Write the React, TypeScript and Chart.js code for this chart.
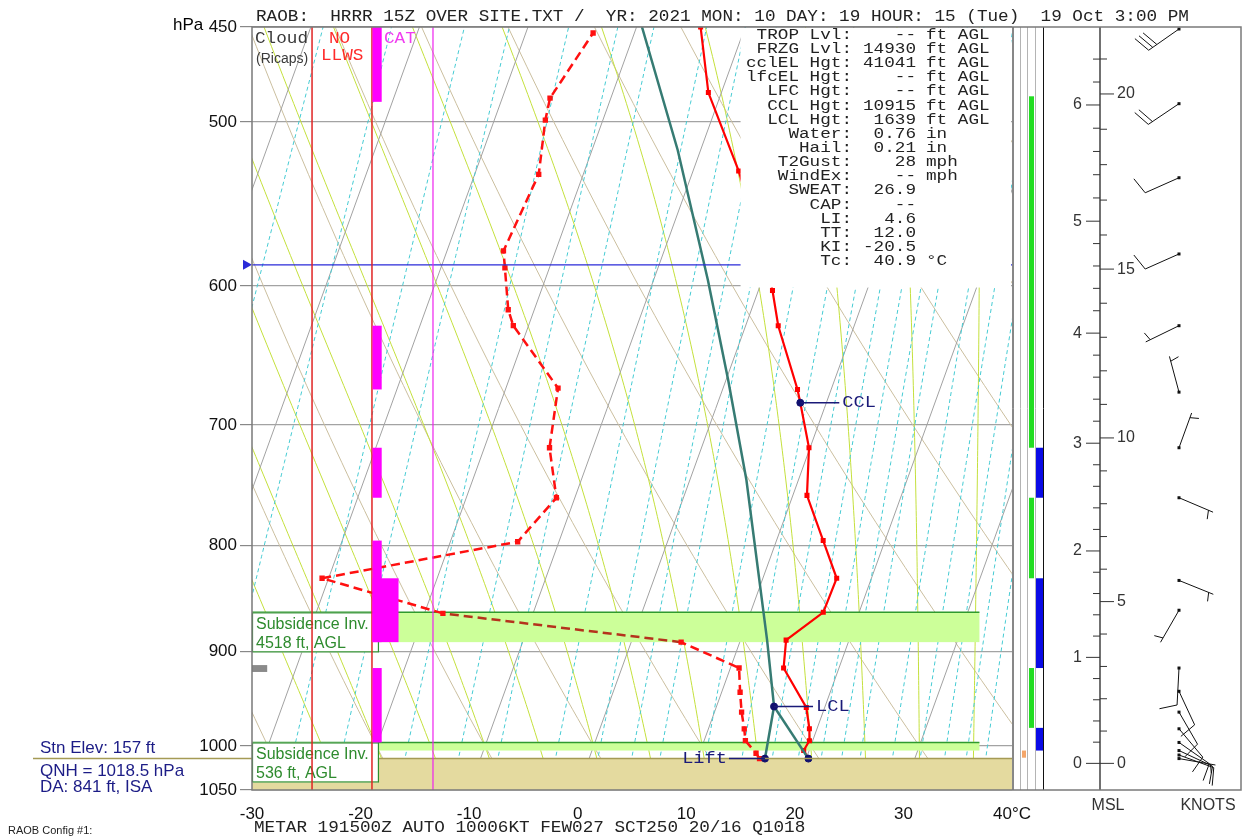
import React, { useEffect, useRef } from 'react';
import { Chart, registerables } from 'chart.js';

Chart.register(...registerables);

// ---------- axes ----------
const SKEW = 30; // skew of isotherms, °C per ln(p) unit
const P_TOP = 450;
const P_BOT = 1050;
const PRESSURE_TICKS = [450, 500, 600, 700, 800, 900, 1000, 1050];

// ---------- sounding ----------
const tempP = [1014, 1005, 994, 981, 958, 917, 889, 862, 830, 796, 757, 718, 683, 673, 627, 603, 586, 528, 484, 450];
const tempT = [20.2, 19.5, 19.7, 19.3, 18.3, 14.9, 14.2, 16.7, 16.8, 14.3, 11.3, 9.9, 7.6, 6.9, 3.0, 1.3, 0.0, -5.8, -11.2, -14.1];

const dewP = [1014, 1008, 994, 981, 963, 942, 917, 891, 863, 830, 797, 759, 718, 672, 627, 616, 588, 577, 530, 499, 487, 453];
const dewT = [15.7, 15.2, 13.8, 13.3, 12.5, 11.7, 10.8, 4.6, -18.3, -30.6, -13.8, -11.7, -14.0, -15.2, -21.4, -22.4, -24.1, -24.8, -24.1, -25.3, -25.6, -23.8];

const parcelP = [1014, 957, 889, 744, 666, 596, 516, 450];
const parcelT = [16.2, 15.3, 12.45, 5.2, 0.2, -5.0, -12.1, -19.5];
const parcelDryP = [1014, 957];
const parcelDryT = [20.2, 15.3];

const markerNames = ['CCL', 'LCL', 'Lift', 'Sfc'];
const markerP = [683, 957, 1014, 1014];
const markerT = [7.6, 15.3, 16.2, 20.2];

const SFC_P = 1014;
const FRZG_P = 586;

// inversion layers [top, bottom] hPa and labels
const invTop = [862, 996];
const invBot = [891, 1005];
const invLabel1 = ['Subsidence Inv.', 'Subsidence Inv.'];
const invLabel2 = ['4518 ft, AGL', '536 ft, AGL'];

// CAT bars
const catNarrowTop = [450, 627, 718, 796, 917];
const catNarrowBot = [489, 673, 759, 891, 996];
const catWideTop = [830];
const catWideBot = [891];

// cloud / column bars
const greenTop = [486, 759, 917];
const greenBot = [718, 830, 980];
const blueTop = [718, 830, 980];
const blueBot = [759, 917, 1005];

// stats block
const statLabels = ['TROP Lvl:', 'FRZG Lvl:', 'cclEL Hgt:', 'lfcEL Hgt:', 'LFC Hgt:', 'CCL Hgt:', 'LCL Hgt:', 'Water:', 'Hail:', 'T2Gust:', 'WindEx:', 'SWEAT:', 'CAP:', 'LI:', 'TT:', 'KI:', 'Tc:'];
const statValues = ['--', '14930', '41041', '--', '--', '10915', '1639', '0.76', '0.21', '28', '--', '26.9', '--', '4.6', '12.0', '-20.5', '40.9'];
const statUnits = ['ft AGL', 'ft AGL', 'ft AGL', 'ft AGL', 'ft AGL', 'ft AGL', 'ft AGL', 'in', 'in', 'mph', 'mph', '', '', '', '', '', '°C'];

// heights (km MSL) and their pressure
const kmLabels = [0, 1, 2, 3, 4, 5, 6, 7];
const kmP = [1019.4, 906.2, 805.2, 714.4, 632.2, 558.3, 490.7, 432.0];
const kftLabels = [0, 5, 10, 15, 20];

// winds
const windP = [451, 490, 532, 579, 627, 675, 718, 759, 832, 860, 917, 941, 963, 981, 996, 1005, 1010, 1014];
const windDir = [235, 236, 246, 246, 244, 345, 20, 113, 112, 210, 183, 155, 150, 140, 125, 115, 110, 100];
const windKt = [30, 20, 10, 10, 5, 5, 5, 5, 5, 3, 10, 10, 10, 10, 10, 10, 10, 5];

// background reference lines
const isothermT = [-60, -50, -40, -30, -20, -10, 0, 10, 20, 30, 40];
const dryThetaC = [-30, -20, -10, 0, 10, 20, 30, 40, 50, 60, 70, 80, 90];
const moistThetaW = [-25, -20, -15, -10, -5, 0, 5, 10, 15, 20, 25, 30, 35, 40];
const mixRatio = [0.1, 0.2, 0.4, 0.6, 1, 1.5, 2, 3, 4, 5, 6, 8, 10, 12, 14, 16, 18, 20, 24, 28, 32, 36, 40];

const headerText = 'RAOB:  HRRR 15Z OVER SITE.TXT /  YR: 2021 MON: 10 DAY: 19 HOUR: 15 (Tue)  19 Oct 3:00 PM';
const metarText = 'METAR 191500Z AUTO 10006KT FEW027 SCT250 20/16 Q1018';

const MONO = '"Liberation Mono", "Courier New", monospace';
const SANS = '"Liberation Sans", Arial, sans-serif';

const skewX = (T: number, P: number) => T + SKEW * Math.log(P_BOT / P);

function moistAdiabat(tw: number): [number, number][] {
  const Rd = 287.04, Cp = 1005.7, Lv = 2.501e6, eps = 0.622;
  const f = (T: number, P: number) => {
    const Tk = T + 273.15;
    const es = 6.112 * Math.exp((17.67 * T) / (T + 243.5));
    const rs = (eps * es) / (P - es);
    return (Rd * Tk + Lv * rs) / (P * (Cp + (Lv * Lv * rs * eps) / (Rd * Tk * Tk)));
  };
  const step = (T: number, P: number, dp: number) => {
    const k1 = f(T, P);
    const k2 = f(T + k1 * dp, P + dp);
    return T + 0.5 * (k1 + k2) * dp;
  };
  const down: [number, number][] = [];
  let T = tw, P = 1000;
  while (P < P_BOT) { T = step(T, P, 5); P += 5; down.push([P, T]); }
  down.reverse();
  const pts: [number, number][] = [...down, [1000, tw]];
  T = tw; P = 1000;
  while (P > P_TOP) { T = step(T, P, -5); P -= 5; pts.push([P, T]); }
  return pts;
}

function heightToP(km: number) {
  let i = Math.min(Math.floor(km), kmLabels.length - 2);
  if (i < 0) i = 0;
  const f = km - kmLabels[i];
  const l0 = Math.log(kmP[i]), l1 = Math.log(kmP[i + 1]);
  return Math.exp(l0 + f * (l1 - l0));
}

function drawBarb(ctx: CanvasRenderingContext2D, x0: number, y0: number, dir: number, kt: number) {
  const r = (dir * Math.PI) / 180;
  const ux = Math.sin(r), uy = -Math.cos(r);
  const L = 37;
  const ex = x0 + ux * L, ey = y0 + uy * L;
  ctx.beginPath(); ctx.moveTo(x0, y0); ctx.lineTo(ex, ey); ctx.stroke();
  ctx.fillRect(x0 - 1.5, y0 - 1.5, 3, 3);
  const a = (75 * Math.PI) / 180;
  const bx = ux * Math.cos(a) - uy * Math.sin(a);
  const by = ux * Math.sin(a) + uy * Math.cos(a);
  let s = Math.round(kt / 5) * 5;
  let d = 0;
  const full = 18, gap = 5;
  while (s >= 10) {
    const sx = ex - ux * d, sy = ey - uy * d;
    ctx.beginPath(); ctx.moveTo(sx, sy); ctx.lineTo(sx + bx * full, sy + by * full); ctx.stroke();
    s -= 10; d += gap;
  }
  if (s >= 5) {
    if (d === 0) d = gap;
    const sx = ex - ux * d, sy = ey - uy * d;
    ctx.beginPath(); ctx.moveTo(sx, sy); ctx.lineTo(sx + bx * full * 0.5, sy + by * full * 0.5); ctx.stroke();
  }
}

// monospace text with a wide, short glyph box (10.6 px advance)
function wideText(ctx: CanvasRenderingContext2D, s: string, x: number, y: number, size: number, advance: number) {
  const sx = advance / (0.6 * size);
  ctx.save();
  ctx.font = `${size}px ${MONO}`;
  ctx.scale(sx, 1);
  ctx.fillText(s, x / sx, y);
  ctx.restore();
}

const skewPlugin = {
  id: 'skewtDecor',
  beforeDatasetsDraw(chart: any) {
    const { ctx, chartArea: a, scales } = chart;
    const X = (T: number, P: number) => scales.x.getPixelForValue(skewX(T, P));
    const Y = (P: number) => scales.y.getPixelForValue(P);
    const samples: number[] = [];
    for (let p = P_BOT; p >= P_TOP - 0.01; p -= 10) samples.push(p);
    const drawPT = (pts: [number, number][]) => {
      ctx.beginPath();
      pts.forEach(([p, t], i) => { const x = X(t, p), y = Y(p); if (i) ctx.lineTo(x, y); else ctx.moveTo(x, y); });
      ctx.stroke();
    };
    ctx.save();
    ctx.beginPath(); ctx.rect(a.left, a.top, a.right - a.left, a.bottom - a.top); ctx.clip();
    ctx.lineWidth = 1;
    ctx.strokeStyle = '#cbbf9f';
    dryThetaC.forEach((th) => drawPT(samples.map((p) => [p, (th + 273.15) * Math.pow(p / 1000, 0.2857) - 273.15] as [number, number])));
    ctx.strokeStyle = '#c4e03c';
    moistThetaW.forEach((tw) => drawPT(moistAdiabat(tw)));
    ctx.strokeStyle = '#a2a2a2';
    isothermT.forEach((t) => drawPT([[P_BOT, t], [P_TOP, t]]));
    ctx.strokeStyle = '#45cbd3';
    ctx.setLineDash([4, 3]);
    mixRatio.forEach((w) => drawPT(samples.map((p) => {
      const e = (w * p) / (622 + w);
      const l = Math.log(e / 6.112);
      return [p, (243.5 * l) / (17.67 - l)] as [number, number];
    })));
    ctx.setLineDash([]);
    const yS = Y(SFC_P);
    ctx.fillStyle = '#e4da9f';
    ctx.fillRect(a.left, yS, a.right - a.left, a.bottom - yS);
    const bandRight = scales.x.getPixelForValue(37);
    invTop.forEach((pt, i) => {
      const y0 = Y(pt), y1 = Y(invBot[i]);
      ctx.fillStyle = '#ccff99';
      ctx.fillRect(a.left, y0, bandRight - a.left, y1 - y0);
      ctx.strokeStyle = '#2f9a2f';
      ctx.lineWidth = 1.5;
      ctx.beginPath(); ctx.moveTo(a.left, y0); ctx.lineTo(bandRight, y0); ctx.stroke();
    });
    ctx.restore();
  },
  afterDatasetsDraw(chart: any) {
    const { ctx, chartArea: a, scales } = chart;
    const xs = scales.x;
    const X = (T: number, P: number) => xs.getPixelForValue(skewX(T, P));
    const Y = (P: number) => scales.y.getPixelForValue(P);
    const R = a.right;
    ctx.save();

    const yS = Y(SFC_P);
    ctx.strokeStyle = '#a59a55';
    ctx.lineWidth = 1.5;
    ctx.beginPath(); ctx.moveTo(33, yS); ctx.lineTo(R, yS); ctx.stroke();

    const yF = Y(FRZG_P);
    ctx.strokeStyle = '#2a2ad8';
    ctx.lineWidth = 1.2;
    ctx.beginPath(); ctx.moveTo(a.left, yF); ctx.lineTo(R, yF); ctx.stroke();
    ctx.fillStyle = '#2a2ad8';
    ctx.beginPath(); ctx.moveTo(a.left - 9, yF - 5); ctx.lineTo(a.left - 9, yF + 5); ctx.lineTo(a.left, yF); ctx.closePath(); ctx.fill();

    ctx.fillStyle = '#8a8a8a';
    ctx.fillRect(a.left, Y(914), xs.getPixelForValue(-28.6) - a.left, Y(921) - Y(914));

    const boxR = xs.getPixelForValue(-18.4);
    invTop.forEach((pt, i) => {
      const y0 = Y(pt);
      ctx.fillStyle = '#ffffff';
      ctx.fillRect(a.left, y0, boxR - a.left, 40);
      ctx.strokeStyle = '#2f8f2f';
      ctx.lineWidth = 1.2;
      ctx.strokeRect(a.left + 0.5, y0 + 0.5, boxR - a.left, 39);
      ctx.fillStyle = '#2e8b2e';
      ctx.font = `16px ${SANS}`;
      ctx.textAlign = 'left';
      ctx.textBaseline = 'middle';
      ctx.fillText(invLabel1[i], a.left + 4, y0 + 12);
      ctx.fillText(invLabel2[i], a.left + 4, y0 + 31);
    });

    const xRed1 = xs.getPixelForValue(-24.47);
    const xRed2 = xs.getPixelForValue(-18.95);
    const xMag = xs.getPixelForValue(-13.33);
    ctx.lineWidth = 1.5;
    ctx.strokeStyle = '#e02424';
    [xRed1, xRed2].forEach((x) => { ctx.beginPath(); ctx.moveTo(x, a.top); ctx.lineTo(x, a.bottom); ctx.stroke(); });
    ctx.strokeStyle = '#ee22ee';
    ctx.lineWidth = 1.2;
    ctx.beginPath(); ctx.moveTo(xMag, a.top); ctx.lineTo(xMag, a.bottom); ctx.stroke();

    ctx.fillStyle = '#ff00ff';
    const xN = xs.getPixelForValue(-18.1);
    const xW = xs.getPixelForValue(-16.55);
    catNarrowTop.forEach((pt, i) => ctx.fillRect(xRed2 + 0.5, Y(pt), xN - xRed2, Y(catNarrowBot[i]) - Y(pt)));
    catWideTop.forEach((pt, i) => ctx.fillRect(xRed2 + 0.5, Y(pt), xW - xRed2, Y(catWideBot[i]) - Y(pt)));

    ctx.textBaseline = 'middle';
    ctx.textAlign = 'left';
    ctx.fillStyle = '#3a3a3a';
    wideText(ctx, 'Cloud', 255, 39, 16, 10.6);
    ctx.font = `14px ${SANS}`;
    ctx.fillText('(Ricaps)', 256, 59);
    ctx.fillStyle = '#ff2a2a';
    wideText(ctx, 'NO', 329, 39, 16, 10.6);
    wideText(ctx, 'LLWS', 321, 56, 16, 10.6);
    ctx.fillStyle = '#f03cf0';
    wideText(ctx, 'CAT', 384, 39, 16, 10.6);

    // stats box
    const boxL = xs.getPixelForValue(15);
    const boxB = Y(601);
    ctx.fillStyle = '#ffffff';
    ctx.fillRect(boxL, a.top + 1, R - boxL - 1, boxB - a.top - 1);
    ctx.fillStyle = '#222222';
    statLabels.forEach((lab, i) => {
      const y = 35 + i * 14.15;
      ctx.textAlign = 'right';
      wideText(ctx, lab, 852, y, 14.5, 10.6);
      wideText(ctx, statValues[i], 916, y, 14.5, 10.6);
      ctx.textAlign = 'left';
      wideText(ctx, statUnits[i], 926, y, 14.5, 10.6);
    });

    // marker labels
    ctx.strokeStyle = '#1a1a78';
    ctx.fillStyle = '#1a1a78';
    ctx.lineWidth = 1.5;
    markerNames.forEach((nm, i) => {
      const x = X(markerT[i], markerP[i]);
      const y = Y(markerP[i]);
      if (nm === 'Lift') {
        ctx.beginPath(); ctx.moveTo(x - 36, y); ctx.lineTo(x, y); ctx.stroke();
        ctx.textAlign = 'right';
        wideText(ctx, nm, x - 38, y, 16, 11.2);
      } else if (nm !== 'Sfc') {
        ctx.beginPath(); ctx.moveTo(x, y); ctx.lineTo(x + 39, y); ctx.stroke();
        ctx.textAlign = 'left';
        wideText(ctx, nm, x + 42, y, 16, 11.2);
      }
    });

    // right columns
    ctx.fillStyle = '#22dd22';
    greenTop.forEach((pt, i) => ctx.fillRect(R + 17, Y(pt), 5, Y(greenBot[i]) - Y(pt)));
    ctx.fillStyle = '#0a0ae6';
    blueTop.forEach((pt, i) => ctx.fillRect(R + 24, Y(pt), 7, Y(blueBot[i]) - Y(pt)));
    ctx.fillStyle = '#f4a66a';
    ctx.fillRect(R + 10, Y(1005), 4, Y(1013) - Y(1005));
    ctx.lineWidth = 1;
    ctx.strokeStyle = '#b4b4b4';
    [R + 8.5, R + 15.5, R + 23.5].forEach((x) => { ctx.beginPath(); ctx.moveTo(x, a.top); ctx.lineTo(x, a.bottom); ctx.stroke(); });
    ctx.strokeStyle = '#111';
    [R + 1, R + 31.5].forEach((x) => { ctx.beginPath(); ctx.moveTo(x, a.top); ctx.lineTo(x, a.bottom); ctx.stroke(); });

    // height axis
    const AX = R + 88;
    ctx.strokeStyle = '#111';
    ctx.lineWidth = 1.2;
    ctx.beginPath(); ctx.moveTo(AX, a.top); ctx.lineTo(AX, a.bottom); ctx.stroke();
    ctx.lineWidth = 1;
    ctx.strokeStyle = '#333';
    for (let h = 0; h <= 6.6; h += 0.2) {
      const y = Y(heightToP(h));
      if (y < a.top + 2) break;
      const major = Math.abs(h - Math.round(h)) < 1e-6;
      ctx.beginPath(); ctx.moveTo(AX - (major ? 14 : 7), y); ctx.lineTo(AX, y); ctx.stroke();
    }
    for (let k = 1; k <= 21; k++) {
      const y = Y(heightToP(k * 0.3048));
      if (y < a.top + 2) break;
      const major = k % 5 === 0;
      ctx.beginPath(); ctx.moveTo(AX, y); ctx.lineTo(AX + (major ? 14 : 7), y); ctx.stroke();
    }
    ctx.fillStyle = '#333';
    ctx.font = `16px ${SANS}`;
    ctx.textAlign = 'right';
    kmLabels.forEach((km) => {
      const y = Y(heightToP(km));
      if (y > a.top + 5) ctx.fillText(String(km), AX - 18, y);
    });
    ctx.beginPath(); ctx.moveTo(AX, Y(heightToP(0))); ctx.lineTo(AX + 14, Y(heightToP(0))); ctx.stroke();
    ctx.textAlign = 'left';
    kftLabels.forEach((k) => ctx.fillText(String(k), AX + 17, Y(heightToP(k * 0.3048))));

    // wind barbs
    ctx.strokeStyle = '#111';
    ctx.fillStyle = '#111';
    ctx.lineWidth = 1;
    windP.forEach((p, i) => drawBarb(ctx, R + 167, Y(p), windDir[i], windKt[i]));

    // frame
    ctx.strokeStyle = '#7a7a7a';
    ctx.lineWidth = 1.5;
    ctx.strokeRect(a.left, a.top, 1241 - a.left, a.bottom - a.top);

    // texts
    ctx.fillStyle = '#222';
    ctx.textAlign = 'left';
    wideText(ctx, headerText, 256, 17, 16, 10.6);
    wideText(ctx, metarText, 254, 828, 16, 10.6);
    ctx.fillStyle = '#000';
    ctx.font = `17px ${SANS}`;
    ctx.fillText('hPa', 173, 25);
    ctx.fillStyle = '#333';
    ctx.font = `16px ${SANS}`;
    ctx.textAlign = 'center';
    ctx.fillText('MSL', AX + 8, 806);
    ctx.fillText('KNOTS', R + 196, 806);
    ctx.textAlign = 'left';
    ctx.fillStyle = '#1c1c86';
    ctx.font = `17px ${SANS}`;
    ctx.fillText('Stn Elev: 157 ft', 40, 748);
    ctx.fillText('QNH = 1018.5 hPa', 40, 771);
    ctx.fillText('DA: 841 ft, ISA', 40, 787);
    ctx.fillStyle = '#222';
    ctx.font = `11px ${SANS}`;
    ctx.fillText('RAOB Config #1:', 8, 831);
    ctx.restore();
  },
};

const pts = (P: number[], T: number[]) => P.map((p, i) => ({ x: skewX(T[i], p), y: p }));

export default function App() {
  const ref = useRef<HTMLCanvasElement | null>(null);
  useEffect(() => {
    const canvas = ref.current;
    if (!canvas) return;
    const inBand = (p: number) => p >= invTop[0] - 1 && p <= invBot[0] + 1;
    const chart = new Chart(canvas, {
      type: 'line',
      data: {
        datasets: [
          {
            label: 'markers', data: pts(markerP, markerT), showLine: false,
            pointRadius: 3.5, pointBackgroundColor: '#10106e', pointBorderColor: '#10106e', order: 0,
          },
          {
            label: 'parcel', data: pts(parcelP, parcelT), borderColor: '#367b73', borderWidth: 2.5,
            pointRadius: 0, order: 1,
          },
          {
            label: 'parcelDry', data: pts(parcelDryP, parcelDryT), borderColor: '#367b73', borderWidth: 2.5,
            pointRadius: 0, order: 1,
          },
          {
            label: 'temperature', data: pts(tempP, tempT), borderColor: '#ff0000', borderWidth: 2.2,
            pointRadius: 2, pointStyle: 'rect', pointBackgroundColor: '#ff0000', pointBorderColor: '#ff0000', order: 2,
          },
          {
            label: 'dewpoint', data: pts(dewP, dewT), borderColor: '#ff1010', borderWidth: 2.5,
            borderDash: [9, 5], pointRadius: 2, pointStyle: 'rect', pointBackgroundColor: '#ff1010', pointBorderColor: '#ff1010', order: 3,
            segment: {
              borderColor: (c: any) => (inBand(c.p0.parsed.y) && inBand(c.p1.parsed.y) ? '#b5321c' : '#ff1010'),
            },
          },
        ],
      },
      options: {
        responsive: false,
        animation: false,
        devicePixelRatio: 1,
        events: [],
        layout: { padding: { left: 0, right: 1246 - 1012, top: 27, bottom: 0 } },
        plugins: { legend: { display: false }, tooltip: { enabled: false } },
        scales: {
          x: {
            type: 'linear', min: -30, max: 40,
            afterFit: (s: any) => { s.height = 47; },
            grid: { display: false },
            border: { display: false },
            ticks: {
              stepSize: 10, padding: 6, color: '#111', autoSkip: false, maxRotation: 0,
              font: { family: SANS, size: 17 },
              callback: (v: any) => (Number(v) === 40 ? '40°C' : String(v)),
            },
          },
          y: {
            type: 'logarithmic', min: P_TOP, max: P_BOT, reverse: true,
            afterFit: (s: any) => { s.width = 252; },
            afterBuildTicks: (s: any) => { s.ticks = PRESSURE_TICKS.map((v) => ({ value: v })); },
            grid: { color: '#a3a3a3', lineWidth: 1.2, tickLength: 12, tickColor: '#888' },
            border: { display: false },
            ticks: {
              padding: 3, color: '#111', autoSkip: false,
              font: { family: SANS, size: 17 },
              callback: (v: any) => String(v),
            },
          },
        },
      },
      plugins: [skewPlugin],
    } as any);
    return () => chart.destroy();
  }, []);
  return (
    <div style={{ position: 'fixed', left: 0, top: 0, width: 1246, height: 837, background: '#ffffff' }}>
      <canvas ref={ref} width={1246} height={837} style={{ display: 'block', width: 1246, height: 837 }} />
    </div>
  );
}
